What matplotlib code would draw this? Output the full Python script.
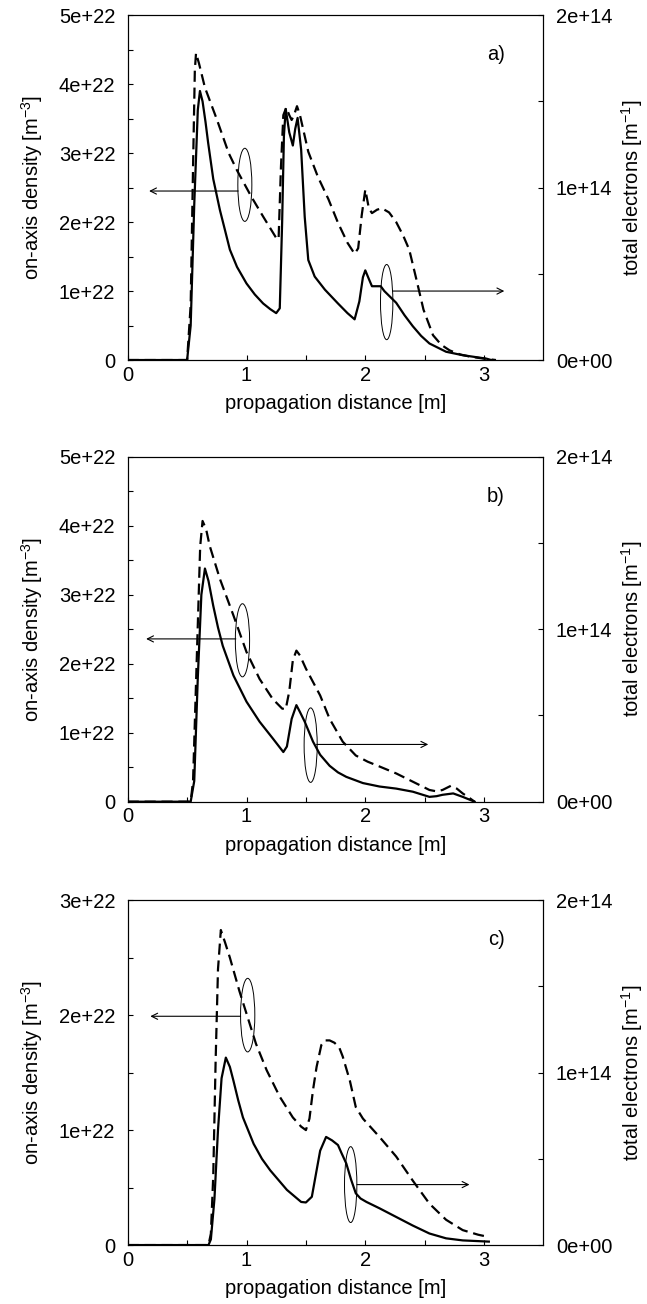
import numpy as np
import matplotlib
matplotlib.use("Agg")
import matplotlib.pyplot as plt
from matplotlib.patches import Ellipse

plt.rcParams['font.family'] = ['Liberation Sans', 'DejaVu Sans']
plt.rcParams['mathtext.default'] = 'regular'

# panel a) : dashed = on-axis density [1e22 m^-3], solid = total electrons [1e14 m^-1]
xa_dens = [0, 0.50, 0.53, 0.55, 0.565, 0.575, 0.60, 0.65, 0.75, 0.85, 0.92, 1.04, 1.14,
           1.25, 1.27, 1.29, 1.31, 1.335, 1.36, 1.38, 1.40, 1.425, 1.45, 1.52, 1.60, 1.69,
           1.77, 1.85, 1.91, 1.94, 1.97, 2.0, 2.03, 2.056, 2.10, 2.14, 2.20, 2.26, 2.32,
           2.37, 2.43, 2.49, 2.57, 2.64, 2.71, 2.80, 2.88, 3.0, 3.1]
ya_dens = [0, 0, 0.8, 2.8, 4.2, 4.45, 4.3, 3.95, 3.49, 3.0, 2.75, 2.37, 2.08,
           1.77, 1.75, 2.8, 3.55, 3.66, 3.55, 3.48, 3.55, 3.68, 3.55, 3.02, 2.66, 2.33,
           1.99, 1.70, 1.54, 1.62, 2.1, 2.47, 2.2, 2.13, 2.18, 2.20, 2.14, 2.0, 1.80,
           1.60, 1.17, 0.73, 0.36, 0.22, 0.14, 0.08, 0.05, 0.02, 0]
xa_elec = [0, 0.50, 0.53, 0.56, 0.59, 0.608, 0.63, 0.655, 0.677, 0.72, 0.776, 0.82, 0.86,
           0.92, 1.0, 1.07, 1.14, 1.20, 1.25, 1.28, 1.30, 1.315, 1.33, 1.36, 1.39, 1.41,
           1.43, 1.46, 1.49, 1.52, 1.574, 1.66, 1.77, 1.85, 1.91, 1.95, 1.98,
           2.0, 2.03, 2.056, 2.13, 2.16, 2.26, 2.33, 2.40, 2.47, 2.54, 2.68, 2.82, 3.02, 3.06]
ya_elec = [0, 0, 0.2, 0.9, 1.45, 1.56, 1.50, 1.38, 1.26, 1.05, 0.87, 0.75, 0.64,
           0.54, 0.444, 0.38, 0.328, 0.295, 0.272, 0.30, 0.80, 1.30, 1.456, 1.32, 1.244, 1.34,
           1.404, 1.22, 0.83, 0.58, 0.484, 0.408, 0.328, 0.272, 0.236, 0.34, 0.48,
           0.52, 0.47, 0.428, 0.428, 0.40, 0.332, 0.26, 0.196, 0.14, 0.096, 0.048, 0.028, 0.008, 0]

# panel b)
xb_dens = [0, 0.53, 0.55, 0.58, 0.61, 0.63, 0.66, 0.69, 0.776, 0.89, 1.0, 1.11, 1.22,
           1.30, 1.33, 1.36, 1.39, 1.42, 1.45, 1.50, 1.62, 1.70, 1.81, 1.92, 2.02, 2.12,
           2.26, 2.40, 2.54, 2.60, 2.65, 2.72, 2.77, 2.82, 2.88, 2.92]
yb_dens = [0, 0, 0.3, 2.0, 3.7, 4.07, 3.95, 3.71, 3.23, 2.70, 2.17, 1.78, 1.49,
           1.35, 1.34, 1.6, 2.05, 2.19, 2.12, 1.93, 1.54, 1.2, 0.87, 0.67, 0.58, 0.51,
           0.41, 0.29, 0.17, 0.15, 0.17, 0.23, 0.19, 0.12, 0.05, 0]
xb_elec = [0, 0.53, 0.56, 0.59, 0.62, 0.65, 0.68, 0.72, 0.76, 0.80, 0.89, 1.0, 1.11, 1.22,
           1.31, 1.34, 1.38, 1.42, 1.45, 1.49, 1.56, 1.62, 1.70, 1.77, 1.84, 1.98, 2.12, 2.26,
           2.40, 2.54, 2.60, 2.65, 2.74, 2.82, 2.92]
yb_elec = [0, 0, 0.12, 0.72, 1.2, 1.352, 1.28, 1.136, 1.01, 0.904, 0.732, 0.58, 0.464, 0.368,
           0.288, 0.32, 0.48, 0.56, 0.52, 0.464, 0.348, 0.272, 0.208, 0.17, 0.144, 0.108, 0.088,
           0.076, 0.058, 0.028, 0.032, 0.04, 0.048, 0.028, 0]

# panel c)
xc_dens = [0, 0.68, 0.70, 0.72, 0.74, 0.76, 0.784, 0.82, 0.86, 0.94, 1.01, 1.08, 1.17,
           1.28, 1.39, 1.46, 1.50, 1.53, 1.56, 1.59, 1.63, 1.66, 1.70, 1.74, 1.78, 1.81,
           1.87, 1.92, 1.98, 2.12, 2.26, 2.40, 2.54, 2.68, 2.82, 2.95, 3.04]
yc_dens = [0, 0, 0.1, 0.6, 1.6, 2.4, 2.74, 2.63, 2.50, 2.21, 1.98, 1.75, 1.52,
           1.29, 1.11, 1.03, 1.00, 1.1, 1.35, 1.55, 1.74, 1.78, 1.78, 1.76, 1.72, 1.64,
           1.43, 1.20, 1.10, 0.94, 0.77, 0.56, 0.36, 0.22, 0.13, 0.09, 0.07]
xc_elec = [0, 0.68, 0.70, 0.73, 0.76, 0.79, 0.826, 0.86, 0.89, 0.93, 0.97, 1.06, 1.13,
           1.20, 1.34, 1.46, 1.50, 1.55, 1.59, 1.62, 1.67, 1.72, 1.77, 1.80, 1.84, 1.88,
           1.92, 1.96, 2.01, 2.12, 2.26, 2.40, 2.54, 2.68, 2.82, 3.04]
yc_elec = [0, 0, 0.033, 0.267, 0.667, 0.967, 1.087, 1.033, 0.953, 0.84, 0.74, 0.587, 0.50,
           0.433, 0.32, 0.25, 0.247, 0.28, 0.433, 0.547, 0.627, 0.607, 0.58, 0.533, 0.473, 0.38,
           0.30, 0.27, 0.25, 0.213, 0.163, 0.113, 0.067, 0.039, 0.027, 0.02]

left_max = [5e22, 5e22, 3e22]
left_ticks = [[0, 1e22, 2e22, 3e22, 4e22, 5e22], [0, 1e22, 2e22, 3e22, 4e22, 5e22], [0, 1e22, 2e22, 3e22]]
left_labels = [['0', '1e+22', '2e+22', '3e+22', '4e+22', '5e+22'],
               ['0', '1e+22', '2e+22', '3e+22', '4e+22', '5e+22'],
               ['0', '1e+22', '2e+22', '3e+22']]
right_ticks = [0, 1e14, 2e14]
right_labels = ['0e+00', '1e+14', '2e+14']
panel_tags = ['a)', 'b)', 'c)']

dens = [(xa_dens, ya_dens), (xb_dens, yb_dens), (xc_dens, yc_dens)]
elec = [(xa_elec, ya_elec), (xb_elec, yb_elec), (xc_elec, yc_elec)]

# ellipse (x, y, w, h in left-axis units) and arrows (start, end, y)
ell_left = [(0.986, 2.54e22, 0.118, 1.06e22), (0.966, 2.34e22, 0.12, 1.06e22), (1.01, 2.0e22, 0.12, 0.64e22)]
arr_left = [(0.93, 0.18, 2.45e22), (0.91, 0.155, 2.36e22), (0.95, 0.19, 1.99e22)]
ell_right = [(2.18, 0.84e22, 0.104, 1.09e22), (1.54, 0.82e22, 0.11, 1.08e22), (1.877, 0.526e22, 0.104, 0.66e22)]
arr_right = [(2.23, 3.17, 1.0e22), (1.59, 2.53, 0.83e22), (1.93, 2.877, 0.526e22)]

fig = plt.figure(figsize=(6.47, 13.04), dpi=100)
bottoms = [0.7239, 0.3852, 0.0452]
fs = 14.5

for i in range(3):
    ax = fig.add_axes([0.1974, bottoms[i], 0.6426, 0.2645])
    ax2 = ax.twinx()
    ax.plot(dens[i][0], np.array(dens[i][1]) * 1e22, color='black', lw=1.6,
            linestyle=(0, (5, 2.6)))
    ax2.plot(elec[i][0], np.array(elec[i][1]) * 1e14, color='black', lw=1.6)

    ax.set_xlim(0, 3.5)
    ax.set_ylim(0, left_max[i])
    ax2.set_ylim(0, 2e14)
    ax.set_xticks([0, 1, 2, 3])
    ax.set_xticks([0.5, 1.5, 2.5], minor=True)
    ax.set_yticks(left_ticks[i])
    ax.set_yticklabels(left_labels[i])
    ax.set_yticks(np.arange(0.5e22, left_max[i], 1e22), minor=True)
    ax2.set_yticks(right_ticks)
    ax2.set_yticklabels(right_labels)
    ax2.set_yticks([5e13, 1.5e14], minor=True)

    for a in (ax, ax2):
        a.tick_params(which='both', direction='in', length=3.5, width=0.8,
                      labelsize=fs, top=False)
        a.tick_params(axis='y', pad=9)
        a.tick_params(axis='x', pad=4)
    ax.tick_params(axis='y', which='both', right=False)
    ax2.tick_params(axis='y', which='both', left=False)

    ax.set_xlabel('propagation distance [m]', fontsize=fs, labelpad=7)
    ax.set_ylabel('on-axis density [m$^{-3}$]', fontsize=fs, labelpad=10)
    ax2.set_ylabel('total electrons [m$^{-1}$]', fontsize=fs, labelpad=5)

    ax.text(0.886, 0.885, panel_tags[i], transform=ax.transAxes, fontsize=fs,
            ha='center', va='center')

    ex, ey, ew, eh = ell_left[i]
    ax.add_patch(Ellipse((ex, ey), ew, eh, fill=False, lw=0.7, color='black'))
    x0, x1, yy = arr_left[i]
    ax.annotate('', xy=(x1, yy), xytext=(x0, yy),
                arrowprops=dict(arrowstyle='->', lw=0.8, color='black', mutation_scale=11,
                                shrinkA=0, shrinkB=0))
    ex, ey, ew, eh = ell_right[i]
    ax.add_patch(Ellipse((ex, ey), ew, eh, fill=False, lw=0.7, color='black'))
    x0, x1, yy = arr_right[i]
    ax.annotate('', xy=(x1, yy), xytext=(x0, yy),
                arrowprops=dict(arrowstyle='->', lw=0.8, color='black', mutation_scale=11,
                                shrinkA=0, shrinkB=0))

fig.savefig('out.png', dpi=100)
